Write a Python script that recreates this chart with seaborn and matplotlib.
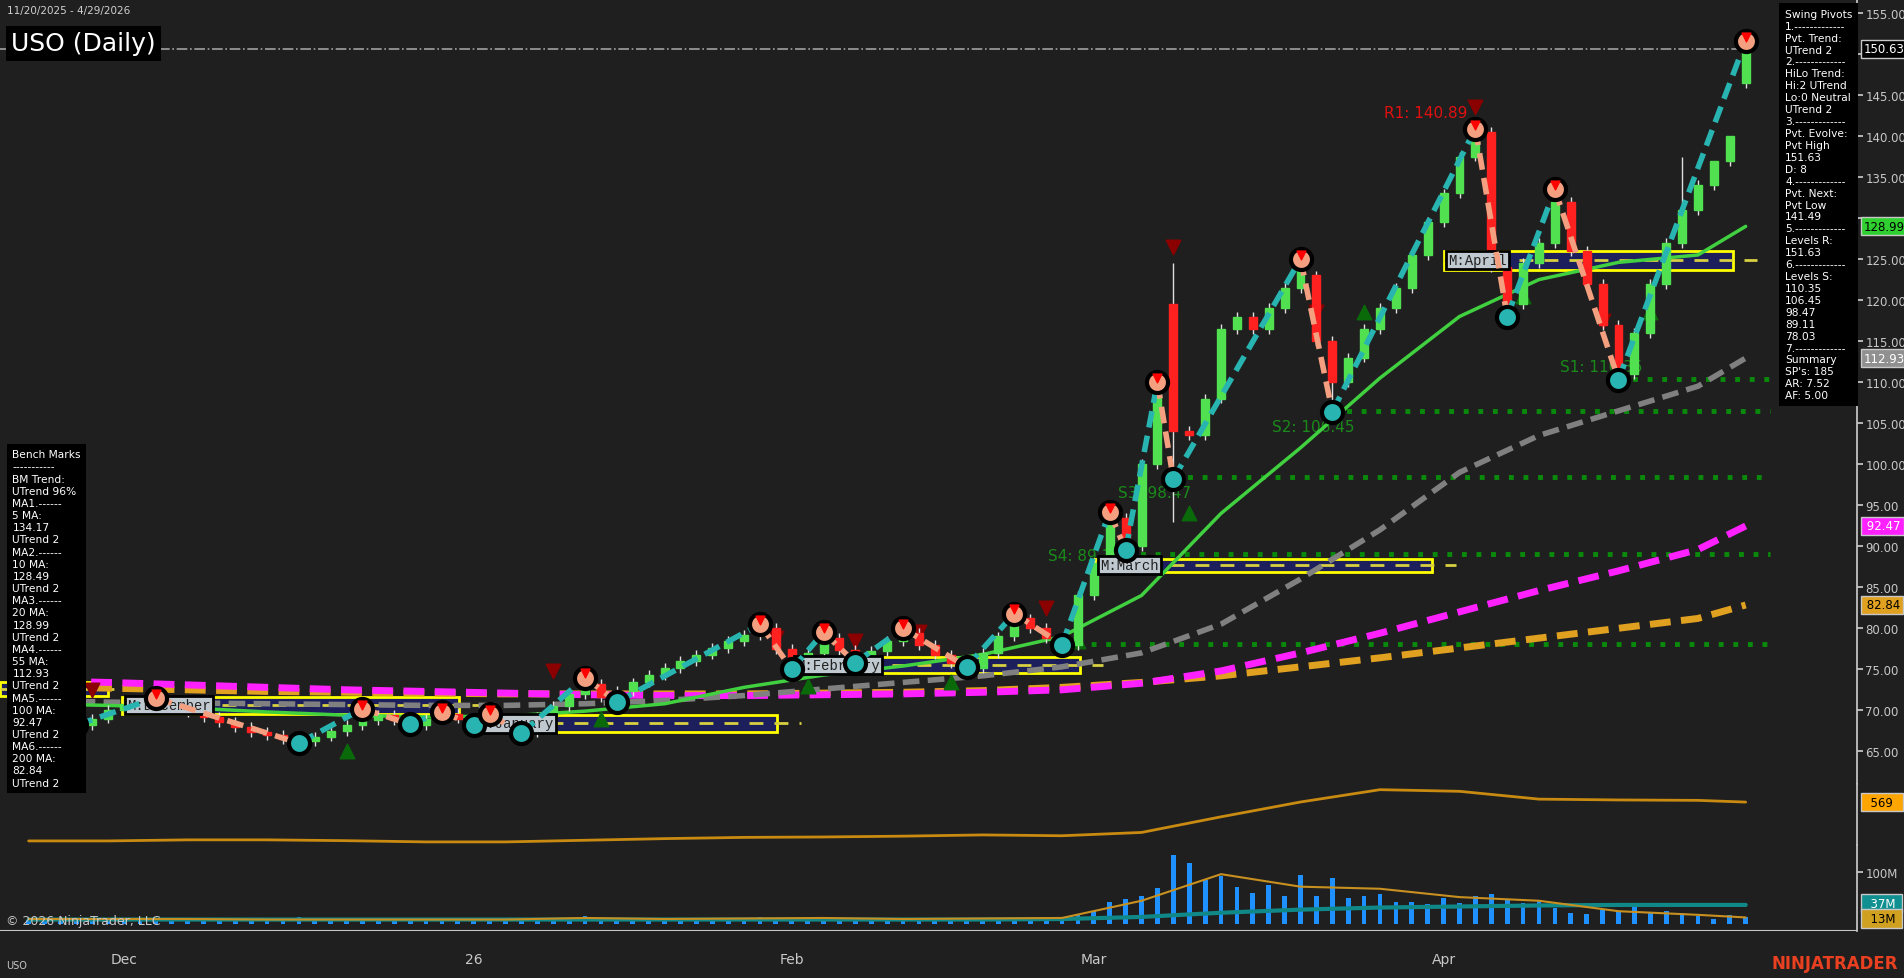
import matplotlib
matplotlib.use("Agg")
import matplotlib.pyplot as plt
import matplotlib.transforms as mtrans
import seaborn as sns
import pandas as pd
import numpy as np

# ---- data (bar index 0 = 11/20/2025) ----
closes = [70.5, 69.5, 68.8, 68.2, 69.0, 70.0, 70.8, 71.2, 70.6, 70.2, 69.8,
          69.2, 68.6, 68.0, 67.4, 67.0, 66.5, 66.2,
          66.8, 67.5, 68.2, 68.8, 69.4, 68.8, 68.2,
          68.9, 69.6, 69.0, 68.3, 68.8, 67.8, 67.4,
          69.2, 70.5, 72.0, 73.2,
          71.6, 72.4, 73.4, 74.3, 75.2, 76.0, 76.8, 77.6, 78.4, 79.2, 80.0,
          77.5, 75.2, 77.0, 78.8, 77.4, 76.2,
          77.2, 78.4, 79.4, 78.0, 76.8, 75.8, 75.2,
          77.0, 79.0, 81.2, 80.0, 78.8, 78.0,
          84.0, 88.0, 93.5, 90.0, 100.0, 109.5, 104.0, 103.5, 108.0, 116.5,
          118.0, 116.5, 119.0, 121.5, 124.5, 115.0, 110.0, 113.0, 116.5, 119.0,
          121.5, 125.5, 129.5, 133.0, 137.5, 140.5, 124.0, 119.5, 124.5, 127.0,
          132.0, 126.0, 122.0, 117.0, 111.0, 116.0, 122.0, 127.0, 131.0, 134.0,
          137.0, 140.0, 150.63]
open_override = {72: 119.5, 81: 123.0, 92: 140.5, 108: 146.5}
high_override = {68: 94.2, 71: 110.0, 72: 124.5, 80: 125.0, 91: 141.0, 93: 124.0,
                 96: 133.5, 104: 137.5, 106: 136.0, 107: 140.0, 108: 151.63}
low_override = {69: 89.0, 72: 93.0, 82: 106.4, 93: 118.0, 100: 110.3, 108: 145.8}

pivots_idx = [3, 8, 17, 21, 24, 26, 28, 29, 31, 35, 37, 46, 48, 50, 52, 55, 59, 62,
              65, 68, 69, 71, 72, 80, 82, 91, 93, 96, 100, 108]
pivots_px = [68.2, 71.5, 66.0, 70.2, 68.3, 69.8, 68.2, 69.5, 67.2, 74.0, 71.0, 80.5,
             75.0, 79.5, 75.8, 80.0, 75.3, 81.8, 78.0, 94.2, 89.5, 110.0, 98.2,
             125.0, 106.4, 140.9, 118.0, 133.5, 110.3, 151.6]

# dark signal triangles
sig_dn_idx = [4, 33, 47, 52, 56, 64, 72, 81, 91, 99]
sig_dn_px = [72.5, 74.8, 78.8, 78.5, 79.5, 82.5, 126.5, 118.5, 143.5, 117.5]
sig_up_idx = [20, 36, 49, 58, 66, 69, 73, 84, 94, 102]
sig_up_px = [65.0, 69.0, 73.0, 73.5, 78.5, 91.0, 94.0, 118.5, 120.5, 118.5]

ma_idx = [0, 5, 10, 15, 20, 25, 30, 35, 40, 45, 50, 55, 60, 65, 70, 75, 80, 85,
          90, 95, 100, 105, 108]
ma20 = [70.8, 70.6, 70.3, 69.8, 69.4, 69.2, 69.3, 69.9, 70.8, 72.8, 74.3, 75.4,
        76.8, 79.0, 84.0, 94.0, 102.0, 110.5, 118.0, 122.5, 124.6, 125.5, 128.99]
ma55 = [71.2, 71.0, 70.9, 70.8, 70.7, 70.6, 70.6, 70.8, 71.2, 71.8, 72.6, 73.4,
        74.2, 75.3, 77.0, 80.5, 86.0, 92.0, 99.0, 103.5, 106.5, 109.5, 112.93]
ma100 = [73.6, 73.4, 73.1, 72.8, 72.5, 72.3, 72.1, 71.9, 71.8, 71.8, 71.9, 72.0,
         72.2, 72.5, 73.3, 74.8, 77.0, 79.4, 82.0, 84.6, 87.0, 89.6, 92.47]
ma200 = [72.9, 72.7, 72.5, 72.3, 72.2, 72.1, 72.0, 72.0, 72.0, 72.0, 72.1, 72.2,
         72.4, 72.8, 73.4, 74.2, 75.3, 76.4, 77.6, 78.8, 80.0, 81.2, 82.84]
indicator = [97, 97, 110, 110, 100, 85, 85, 105, 125, 140, 145, 155, 170, 160,
             200, 390, 570, 720, 700, 605, 595, 590, 569]
vol_ma_fast = [10, 10, 10, 9, 9, 9, 9, 12, 10, 11, 12, 10, 11, 12, 45, 96, 72,
               68, 52, 45, 25, 18, 13]
vol_ma_slow = [9, 9, 9, 9, 9, 9, 9, 9, 9, 9, 9, 9, 9, 10, 14, 22, 28, 32, 34,
               36, 37, 37, 37]
volume = [9, 8, 10, 7, 9, 11, 8, 10, 9, 12, 8, 7, 9, 10, 8, 9, 11, 13, 9, 8, 7,
          10, 9, 8, 6, 7, 9, 8, 10, 9, 12, 8, 9, 11, 10, 16, 9, 8, 10, 9, 8, 9,
          10, 9, 8, 10, 14, 12, 10, 9, 13, 9, 8, 10, 9, 8, 9, 10, 8, 9, 11, 10,
          12, 9, 10, 14, 18, 25, 42, 48, 55, 70, 133, 118, 85, 92, 72, 60, 75,
          55, 95, 55, 88, 50, 55, 58, 42, 42, 38, 50, 40, 55, 58, 48, 40, 45,
          32, 22, 20, 28, 26, 35, 22, 25, 22, 15, 10, 18, 13]

support_lvls = [110.35, 106.45, 98.47, 89.11, 78.03]
support_start = [100, 82, 72, 69, 65]
support_lbl = ["S1: 110.35", "S2: 106.45", "S3: 98.47", "S4: 89.11", ""]

month_names = ["", "M:December", "M:January", "M:February", "M:March", "M:April"]
month_x0 = [-1.8, 5.9, 28.0, 48.0, 67.1, 89.0]
month_x1 = [5.0, 27.1, 47.1, 66.1, 88.3, 107.2]
month_lo = [71.7, 69.6, 67.4, 74.6, 86.9, 123.7]
month_hi = [73.4, 71.6, 69.4, 76.5, 88.5, 126.0]

tick_idx = [6, 28, 48, 67, 89]
tick_lbl = ["Dec", "26", "Feb", "Mar", "Apr"]
price_ticks = [65, 70, 75, 80, 85, 90, 95, 100, 105, 110, 115, 120, 125, 130,
               135, 140, 145, 150, 155]
hidden_ticks = [130, 150]  # covered by value tags on the reference

swing_text = ["Swing Pivots", "1.-------------", "Pvt. Trend:", "UTrend 2",
              "2.-------------", "HiLo Trend:", "Hi:2 UTrend", "Lo:0 Neutral",
              "UTrend 2", "3.-------------", "Pvt. Evolve:", "Pvt High", "151.63",
              "D: 8", "4.-------------", "Pvt. Next:", "Pvt Low", "141.49",
              "5.-------------", "Levels R:", "151.63", "6.-------------",
              "Levels S:", "110.35", "106.45", "98.47", "89.11", "78.03",
              "7.-------------", "Summary", "SP's: 185", "AR: 7.52", "AF: 5.00"]
bench_text = ["Bench Marks", "-----------", "BM Trend:", "UTrend 96%", "MA1.------",
              "5 MA:", "134.17", "UTrend 2", "MA2.------", "10 MA:", "128.49",
              "UTrend 2", "MA3.------", "20 MA:", "128.99", "UTrend 2", "MA4.------",
              "55 MA:", "112.93", "UTrend 2", "MA5.------", "100 MA:", "92.47",
              "UTrend 2", "MA6.------", "200 MA:", "82.84", "UTrend 2"]

BG = "#1f1f1f"
sns.set_theme(style="dark", rc={"axes.facecolor": BG, "figure.facecolor": BG})
plt.rcParams["font.family"] = ["DejaVu Sans"]

n = len(closes)
idx = np.arange(n)
opens = [open_override.get(i, closes[i - 1] if i else closes[0]) for i in range(n)]
highs = [high_override.get(i, max(opens[i], closes[i]) + 0.6) for i in range(n)]
lows = [low_override.get(i, min(opens[i], closes[i]) - 0.6) for i in range(n)]

fig = plt.figure(figsize=(19.04, 9.79), dpi=100)
ax = fig.add_axes([0, 0.198, 0.9753, 0.802])
axi = fig.add_axes([0, 0.1359, 0.9753, 0.0621])
axv = fig.add_axes([0, 0.048, 0.9753, 0.0879])
XL = (-1.8, 115.0)

for a in (ax, axi, axv):
    a.set_xlim(*XL)
    a.set_facecolor(BG)
    a.grid(False)
    for s in a.spines.values():
        s.set_visible(False)
    a.spines["right"].set_visible(True)
    a.spines["right"].set_color("#c8c8c8")
    a.yaxis.tick_right()
    a.tick_params(axis="y", colors="#c8c8c8", labelsize=8.5, length=4, direction="out", pad=2)
    a.set_xticks([])
for a in (ax, axi):
    a.axhline(a.get_ylim()[0], color="#c8c8c8", lw=1)

# ---- price panel ----
ax.set_ylim(61.0, 156.7)
ax.set_yticks(price_ticks)
ax.set_yticklabels(["" if v in hidden_ticks else f"{v:.2f}" for v in price_ticks])

for x0, x1, lo, hi, name in zip(month_x0, month_x1, month_lo, month_hi, month_names):
    ax.add_patch(plt.Rectangle((x0, lo), x1 - x0, hi - lo, facecolor="#1c1f5c",
                               edgecolor="yellow", lw=2, zorder=2))
    ax.plot([x0, x1 + 1.5], [(lo + hi) / 2] * 2, color="#d8d040", ls=(0, (5, 4)), lw=2, zorder=2)
    if name:
        ax.text(x0 + 0.3, (lo + hi) / 2, name, fontsize=10, family="Liberation Mono",
                color="#202020", va="center", zorder=6,
                bbox=dict(facecolor="#c0c8d0", edgecolor="black", lw=2, pad=1.5))

for lvl, st, lbl in zip(support_lvls, support_start, support_lbl):
    ax.plot([st, 109.5], [lvl, lvl], color="#0a8a0a", ls=(0, (1, 2)), lw=3.5, zorder=2)
ax.text(96.3, 111.3, support_lbl[0], color="#1a8a1a", fontsize=11, zorder=3)
ax.text(78.2, 104.0, support_lbl[1], color="#1a8a1a", fontsize=11, zorder=3)
ax.text(68.5, 96.0, support_lbl[2], color="#1a8a1a", fontsize=11, zorder=3)
ax.text(64.1, 88.3, support_lbl[3], color="#1a8a1a", fontsize=11, zorder=1)
ax.text(90.5, 142.3, "R1: 140.89", color="#e01010", fontsize=11, ha="right", zorder=3)

ma_df = pd.DataFrame({"i": ma_idx, "ma20": ma20, "ma55": ma55, "ma100": ma100, "ma200": ma200})
sns.lineplot(data=ma_df, x="i", y="ma200", ax=ax, color="#e0a020", lw=5, ls=(0, (3, 1.5)), zorder=3)
sns.lineplot(data=ma_df, x="i", y="ma100", ax=ax, color="#ff20ff", lw=5, ls=(0, (3, 1.5)), zorder=3)
sns.lineplot(data=ma_df, x="i", y="ma55", ax=ax, color="#808080", lw=4, ls=(0, (3, 1.5)), zorder=3)
sns.lineplot(data=ma_df, x="i", y="ma20", ax=ax, color="#40d040", lw=2.5, zorder=3)

ax.scatter(sig_dn_idx, sig_dn_px, s=110, marker="v", color="#8b0000", zorder=4)
ax.scatter(sig_up_idx, sig_up_px, s=110, marker="^", color="#0a6a0a", zorder=4)

# candles
for i in idx:
    o, c = opens[i], closes[i]
    col = "#50e050" if c > o + 0.3 else ("#ff2020" if c < o - 0.3 else "#e0e0e0")
    ax.vlines(i, lows[i], highs[i], color="#e0e0e0", lw=1, zorder=4)
    ax.add_patch(plt.Rectangle((i - 0.25, min(o, c)), 0.5, max(abs(c - o), 0.15),
                               facecolor=col, edgecolor=col, zorder=5))

# swing pivot zigzag
for k in range(len(pivots_idx) - 1):
    up = pivots_px[k + 1] > pivots_px[k]
    seg = pd.DataFrame({"i": pivots_idx[k:k + 2], "p": pivots_px[k:k + 2]})
    sns.lineplot(data=seg, x="i", y="p", ax=ax, color="#28b4b0" if up else "#f4a080",
                 lw=4, ls=(0, (3, 1.5)), zorder=6)
for k, (pi, pp) in enumerate(zip(pivots_idx, pivots_px)):
    hi = k % 2 == 1
    ax.scatter(pi, pp, s=230, color="#f4a080" if hi else "#28b4b0",
               edgecolor="black", linewidth=3, zorder=7)
    if hi:
        ax.scatter(pi, pp + 0.5, s=40, marker="v", color="red", zorder=8)

ax.plot([XL[0], 108], [150.63, 150.63], color="#a0a0a0", ls="-.", lw=1.2, zorder=2)
ax.set_xlabel("")
ax.set_ylabel("")

# text boxes
ax.text(0.006, 0.935, "USO (Daily)", transform=ax.transAxes, color="white", fontsize=18,
        bbox=dict(facecolor="black", edgecolor="none", pad=4), zorder=9)
ax.text(0.004, 0.992, "11/20/2025 - 4/29/2026", transform=ax.transAxes, color="#d0d0d0",
        fontsize=7.5, va="top", zorder=9)
fig.text(0.9375, 0.99, "\n".join(swing_text), color="white", fontsize=7.7, va="top",
         linespacing=1.24, bbox=dict(facecolor="black", edgecolor="none", pad=4), zorder=9)
fig.text(0.0065, 0.54, "\n".join(bench_text), color="white", fontsize=7.7, va="top",
         linespacing=1.27, bbox=dict(facecolor="black", edgecolor="none", pad=4), zorder=9)

def tag(a, y, txt, fc, tc="black"):
    tr = mtrans.blended_transform_factory(a.transAxes, a.transData)
    a.text(1.0035, y, txt, transform=tr, fontsize=8.5, color=tc, va="center", ha="left",
           bbox=dict(boxstyle="square,pad=0.22", facecolor=fc, edgecolor="#c8c8c8"),
           zorder=10, clip_on=False)

tag(ax, 150.63, "150.63", "black", "white")
tag(ax, 128.99, "128.99", "#30d030")
tag(ax, 112.93, "112.93", "#909090", "white")
tag(ax, 92.47, " 92.47", "#ff20ff", "white")
tag(ax, 82.84, " 82.84", "#e0a020")

# ---- indicator panel ----
axi.set_ylim(48, 787)
axi.set_yticks([])
ind_df = pd.DataFrame({"i": ma_idx, "v": indicator})
sns.lineplot(data=ind_df, x="i", y="v", ax=axi, color="#c88a10", lw=2)
axi.set_xlabel("")
axi.set_ylabel("")
tag(axi, 569, "  569  ", "#ffa500")

# ---- volume panel ----
axv.set_ylim(-13, 152)
axv.bar(idx, volume, width=0.3, color="#1e90ff", linewidth=0, zorder=2)
vdf = pd.DataFrame({"i": ma_idx, "fast": vol_ma_fast, "slow": vol_ma_slow})
sns.lineplot(data=vdf, x="i", y="slow", ax=axv, color="#108888", lw=3, zorder=3)
sns.lineplot(data=vdf, x="i", y="fast", ax=axv, color="#c89020", lw=1.5, zorder=3)
axv.set_yticks([100])
axv.set_yticklabels(["100M"])
axv.set_xlabel("")
axv.set_ylabel("")
tag(axv, 40, "  37M ", "#109090", "white")
tag(axv, 11, "  13M ", "#d0a020")
axv.axhline(-13, color="#c8c8c8", lw=1.5)
axv.set_xticks(tick_idx)
axv.set_xticklabels(tick_lbl)
axv.tick_params(axis="x", colors="#c8c8c8", labelsize=10, length=5, direction="out", pad=10)
axv.text(0.003, 0.08, "© 2026 NinjaTrader, LLC", transform=axv.transAxes, color="#c8c8c8", fontsize=9)

fig.text(0.003, 0.01, "USO", color="#c8c8c8", fontsize=7)
fig.text(0.997, 0.01, "NINJATRADER", color="#e84020", fontsize=12, ha="right", weight="bold")

fig.savefig("out.png", dpi=100, facecolor=BG)
